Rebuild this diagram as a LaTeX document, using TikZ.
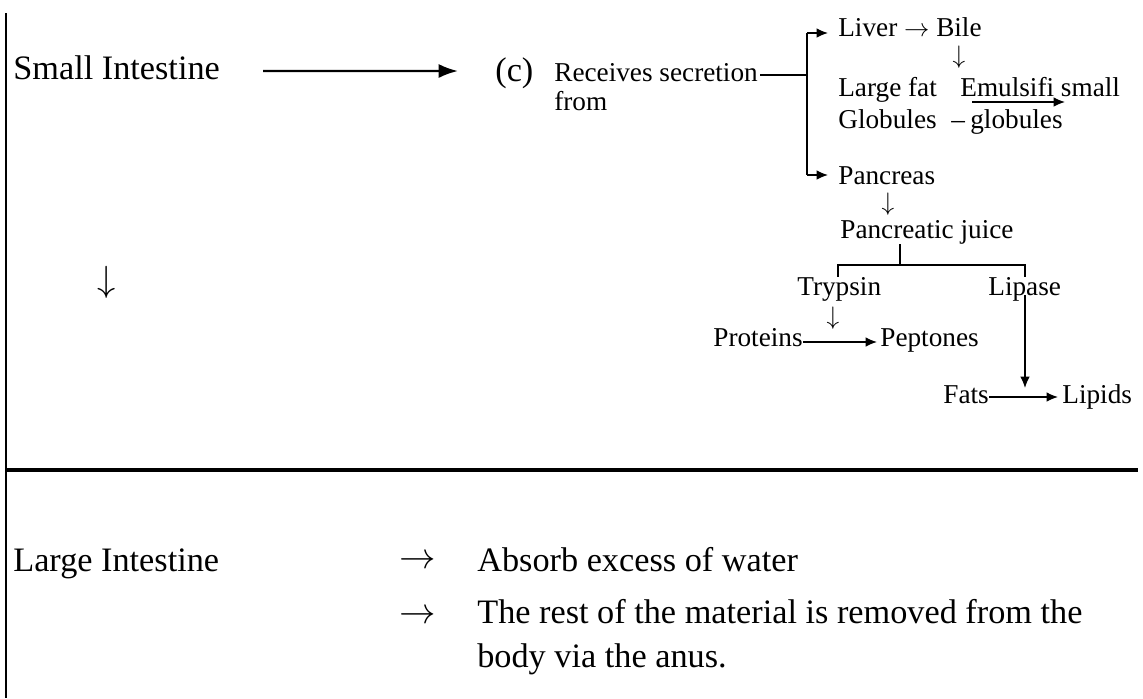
\documentclass[tikz,border=0pt]{standalone}
\usepackage{amsmath}
\usepackage{fontspec}
\setmainfont{Liberation Serif}
\usetikzlibrary{arrows.meta}

\begin{document}
\begin{tikzpicture}[x=0.02cm, y=-0.02cm,
		big/.style={inner sep=0pt, anchor=base west, font=\fontsize{19.5}{23}\selectfont},
		small/.style={inner sep=0pt, anchor=base west, font=\fontsize{15.5}{18}\selectfont},
		glyph/.style={inner sep=0pt, anchor=center},
		link/.style={line width=0.8pt},
		arr/.style={line width=0.8pt, -{Latex[length=6.5pt,width=5.5pt]}},
		bigarr/.style={line width=1.4pt, -{Latex[length=11pt,width=8pt]}}]
			\useasboundingbox (0,0) rectangle (1143,698);
			% Frame
			\coordinate (topL) at (6,13);
			\coordinate (botL) at (6,698);
			\coordinate (midL) at (6,470);
			\coordinate (midR) at (1138,470);
			\draw[line width=1.1pt] (topL) -- (botL);
			\draw[line width=2pt] (midL) -- (midR);
			% Small intestine
			\node[big] (si) at (13,79) {Small Intestine};
			\node[big] (c) at (495,81) {(c)};
			\draw[bigarr] ([xshift=0.86cm, yshift=0.16cm]si.base east) -- ([xshift=-0.74cm, yshift=0.2cm]c.base west);
			\node[small] (recv) at (554,81) {Receives secretion};
			\node[small] (from) at (554,110) {from};
			\node[big, glyph] (sidown) at (107,282) {$\downarrow$};
			% Liver branch
			\coordinate (brmid) at (807,75);
			\coordinate (brtop) at (807,33);
			\coordinate (brbot) at (807,175);
			\node[small] (liver) at (838,36) {Liver $\rightarrow$ Bile};
			\node[small, glyph] (bdown) at (959,57) {$\downarrow$};
			\node[small] (lfat) at (838,96) {Large fat};
			\node[small] (emul) at (960,96) {Emulsifi small};
			\node[small] (glob) at (838,128) {Globules};
			\node[small] (gdash) at (951,128) {--};
			\node[small] (sglob) at (970,128) {globules};
			\draw[link] (recv.east |- brmid) ++(2,0) -- (brmid);
			\draw[link] (brtop) -- (brbot);
			\draw[arr, shorten >=5.7pt] (brtop) -- (liver.west |- brtop);
			\draw[arr] (emul.base west) ++(12,6) -- ++(93,0);
			% Pancreas branch
			\node[small] (panc) at (838,184) {Pancreas};
			\draw[arr, shorten >=5.7pt] (brbot) -- (panc.west |- brbot);
			\node[small, glyph] (pdown) at (888,204) {$\downarrow$};
			\node[small] (juice) at (840,238) {Pancreatic juice};
			\coordinate (jsplit) at (900,265);
			\coordinate (jl) at (838,265);
			\coordinate (jr) at (1025,265);
			\node[small] (tryp) at (797,295) {Trypsin};
			\node[small] (lip) at (988,295) {Lipase};
			\draw[link] (juice.south -| jsplit) -- (jsplit);
			\draw[link] (tryp.north -| jl) -- (jl) -- (jr) -- (lip.north -| jr);
			\node[small, glyph] (tdown) at (833,318) {$\downarrow$};
			\node[small] (prot) at (713,346) {Proteins};
			\node[small] (pept) at (880,346) {Peptones};
			\draw[arr, shorten >=1.7pt] ([yshift=0.08cm]prot.base east) -- ([yshift=0.08cm]pept.base west);
			\node[small] (fats) at (943,403) {Fats};
			\node[small] (lipid) at (1062,403) {Lipids};
			\draw[arr] (jr |- lip.base) -- ([yshift=0.3cm]jr |- fats.base);
			\draw[arr, shorten >=2.3pt] ([yshift=0.12cm]fats.base east) -- ([yshift=0.12cm]lipid.base west);
			% Large intestine
			\node[big] (li) at (13,571) {Large Intestine};
			\node[big, glyph] (ar1) at (418,562) {$\rightarrow$};
			\node[big] (abs) at (477,571) {Absorb excess of water};
			\node[big, glyph] (ar2) at (418,617) {$\rightarrow$};
			\node[big] (rest1) at (477,623) {The rest of the material is removed from the};
			\node[big] (rest2) at (477,667) {body via the anus.};
		\end{tikzpicture}
\end{document}
